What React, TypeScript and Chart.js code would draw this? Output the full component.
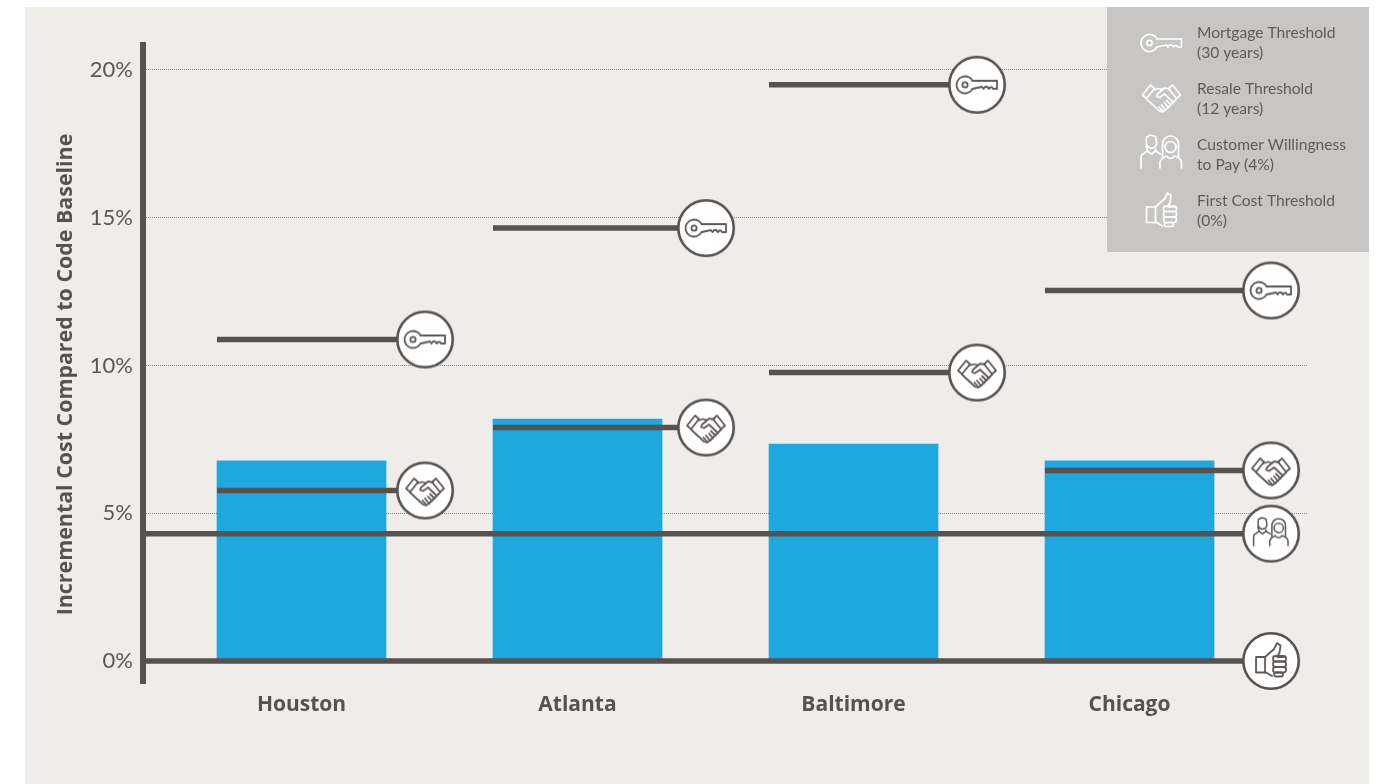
import React, { useEffect, useRef } from "react";
import { Chart, registerables } from "chart.js";

Chart.register(...registerables);

const cities = ["Houston", "Atlanta", "Baltimore", "Chicago"];
const incrementalCost = [6.77, 8.19, 7.34, 6.77];
const mortgageThreshold = [10.88, 14.65, 19.5, 12.54];
const resaleThreshold = [5.77, 7.9, 9.76, 6.45];
const willingnessToPay = 4.31;
const firstCostThreshold = 0;
const yTicks = [0, 5, 10, 15, 20];
const legendLines = [
  ["Mortgage Threshold", "(30 years)"],
  ["Resale Threshold", "(12 years)"],
  ["Customer Willingness", "to Pay (4%)"],
  ["First Cost Threshold", "(0%)"],
];

const INK = "#575150";
const ICON_INK = "#5e5957";
const FONT = "Lato, 'Open Sans', sans-serif";
const BOLD_FONT = "'Open Sans', Lato, sans-serif";

type Ctx = CanvasRenderingContext2D;

function poly(c: Ctx, pts: number[][], close = false) {
  c.beginPath();
  pts.forEach(([x, y], i) => (i ? c.lineTo(x, y) : c.moveTo(x, y)));
  if (close) c.closePath();
  c.stroke();
}

function drawKey(c: Ctx) {
  c.beginPath();
  c.arc(-12, 0, 8.5, 0.5, Math.PI * 2 - 0.5);
  c.stroke();
  c.beginPath();
  c.arc(-12, 0, 2.6, 0, Math.PI * 2);
  c.stroke();
  poly(c, [[-4.5, -4], [20, -4], [20, 4], [16, 4], [15, 2.5], [13, 2.5], [12, 4], [10, 2], [8, 2], [6.5, 4], [5, 2], [-4.5, 4]]);
}

function drawHandshake(c: Ctx) {
  poly(c, [[-19, -2], [-11, -12], [-7, -8.5], [-15, 1.5]], true);
  poly(c, [[19, -2], [11, -12], [7, -8.5], [15, 1.5]], true);
  poly(c, [[-15, 2], [-2, 14], [1, 15], [4, 13], [6, 11], [8, 9], [11, 6], [15, 2]]);
  poly(c, [[-8, -7], [-3, -8.5], [1, -7.5]]);
  poly(c, [[8, -8], [3, -9], [-4, -3], [-5, -0.5], [-2, 0.5], [3, -3], [12, 5.5]]);
  poly(c, [[1, 14], [-2.5, 10]]);
  poly(c, [[4, 13], [0, 8]]);
  poly(c, [[7, 10.5], [3, 6]]);
  poly(c, [[9.5, 8], [5, 3.5]]);
}

function drawPeople(c: Ctx) {
  // man on the left
  c.beginPath();
  c.arc(-10, -9, 5.2, 0.2, Math.PI - 0.2);
  c.stroke();
  poly(c, [[-15.2, -9], [-15, -15], [-11, -17], [-6, -15.5], [-4.8, -9]]);
  poly(c, [[-15.5, -6], [-14, -1], [-20, 3], [-20.5, 6], [-20.5, 16]]);
  poly(c, [[-6, -3], [-6, -1], [-1, 2]]);
  poly(c, [[-14, -1], [-10, 2], [-6, -1]]);
  // woman on the right
  c.beginPath();
  c.moveTo(1, 6);
  c.lineTo(1, -8);
  c.arc(9, -8, 8, Math.PI, 0);
  c.lineTo(17, 6);
  c.stroke();
  c.beginPath();
  c.arc(9, -5, 5.5, 0, Math.PI * 2);
  c.stroke();
  c.beginPath();
  c.moveTo(-1.5, 16);
  c.lineTo(-1.5, 10);
  c.quadraticCurveTo(0, 6, 5, 4);
  c.quadraticCurveTo(9, 9, 13, 4);
  c.quadraticCurveTo(19.5, 6, 20, 10);
  c.lineTo(20, 16);
  c.stroke();
}

function drawPeopleSmall(c: Ctx) {
  c.save();
  c.translate(0, -1.5);
  c.scale(0.85, 0.85);
  drawPeople(c);
  c.restore();
}

function drawThumb(c: Ctx) {
  poly(c, [[1, 15], [-5, 11.5], [-15, 11.5], [-15, -4], [-6, -4], [3, -12], [6, -18], [9.5, -15.5], [8.5, -8.5], [6, -4], [13, -4]]);
  poly(c, [[-6, -4], [-6, 11.5]]);
  [[2, -4, 13, 5.5], [2, 1.5, 13, 5.5], [2, 7, 13, 5.5], [3, 12.5, 9, 4]].forEach(([x, y, w, h]) => {
    c.beginPath();
    c.roundRect(x, y - 1, w, h, 2.4);
    c.stroke();
  });
}

const iconPainters = [drawKey, drawHandshake, drawPeople, drawThumb];
const badgePainters = [drawKey, drawHandshake, drawPeopleSmall, drawThumb];
const legendIconShift = [0, -2, -3, 0];

// A white disc with a pictogram, used as the point style at the end of each threshold line.
function makeBadge(paint: (c: Ctx) => void): HTMLCanvasElement {
  const size = 60;
  const cv = document.createElement("canvas");
  cv.width = size;
  cv.height = size;
  const c = cv.getContext("2d") as Ctx;
  c.translate(size / 2, size / 2);
  c.beginPath();
  c.arc(0, 0, 27.7, 0, Math.PI * 2);
  c.fillStyle = "#ffffff";
  c.fill();
  c.lineWidth = 2.6;
  c.strokeStyle = INK;
  c.stroke();
  c.lineWidth = 1.8;
  c.strokeStyle = ICON_INK;
  c.lineJoin = "round";
  c.lineCap = "round";
  paint(c);
  return cv;
}

const X_MIN = -0.5743;
const X_MAX = 3.6431;
const BAR_HALF = 0.3062;
const reach = [0.4475, 0.4656, 0.4475, 0.5127];

// One broken line across the cities: each piece runs from a bar's left edge to its badge.
function cityThreshold(values: number[]) {
  const pts: { x: number; y: number | null; end?: boolean }[] = [];
  values.forEach((v, i) => {
    pts.push({ x: i - BAR_HALF, y: v });
    pts.push({ x: i + reach[i], y: v, end: true });
    pts.push({ x: i + 0.5, y: null });
  });
  return pts;
}

function wideThreshold(v: number) {
  return [
    { x: X_MIN, y: v },
    { x: 3 + reach[3], y: v, end: true },
  ];
}

const panelPlugin = {
  id: "panel",
  beforeDraw(chart: Chart) {
    const c = chart.ctx;
    c.save();
    c.fillStyle = "#eeedea";
    c.fillRect(25, 7, 1344, 777);
    c.restore();
  },
  afterDraw(chart: Chart) {
    const c = chart.ctx;
    c.save();
    c.translate(66, 374.5);
    c.rotate(-Math.PI / 2);
    c.fillStyle = INK;
    c.font = `700 21.4px ${BOLD_FONT}`;
    c.textAlign = "center";
    c.textBaseline = "middle";
    c.fillText("Incremental Cost Compared to Code Baseline", 0, 0);
    c.restore();

    c.save();
    c.fillStyle = "#c7c6c4";
    c.fillRect(1107, 7, 262, 245);
    legendLines.forEach((lines, i) => {
      const rowY = 43 + i * 56;
      c.fillStyle = "#5f5b59";
      c.font = `400 15.6px ${FONT}`;
      c.textAlign = "left";
      c.textBaseline = "middle";
      c.fillText(lines[0], 1197, rowY - 10);
      c.fillText(lines[1], 1197, rowY + 10);
      c.save();
      c.translate(1161.5, rowY + legendIconShift[i]);
      c.strokeStyle = "#ffffff";
      c.lineWidth = 1.7;
      c.lineJoin = "round";
      c.lineCap = "round";
      iconPainters[i](c);
      c.restore();
    });
    c.restore();
  },
};

export default function App() {
  const ref = useRef<HTMLCanvasElement>(null);

  useEffect(() => {
    const [keyBadge, handBadge, peopleBadge, thumbBadge] = badgePainters.map(makeBadge);
    const lineStyle = (badge: HTMLCanvasElement) => ({
      type: "line" as const,
      borderColor: INK,
      borderWidth: 5.5,
      borderCapStyle: "butt" as const,
      spanGaps: false,
      tension: 0,
      clip: false,
      pointStyle: badge,
      pointRadius: (ctx: any) => (ctx.raw && ctx.raw.end ? 29 : 0),
      pointHoverRadius: 0,
      order: 1,
    });

    const chart = new Chart(ref.current as HTMLCanvasElement, {
      data: {
        datasets: [
          {
            type: "bar",
            label: "Incremental cost",
            data: incrementalCost.map((y, x) => ({ x, y })),
            backgroundColor: "#1ea8e0",
            barThickness: 169,
            order: 2,
          },
          { label: "Mortgage Threshold", data: cityThreshold(mortgageThreshold), ...lineStyle(keyBadge) },
          { label: "Resale Threshold", data: cityThreshold(resaleThreshold), ...lineStyle(handBadge) },
          { label: "Customer Willingness to Pay", data: wideThreshold(willingnessToPay), ...lineStyle(peopleBadge) },
          { label: "First Cost Threshold", data: wideThreshold(firstCostThreshold), ...lineStyle(thumbBadge) },
        ] as any,
      },
      options: {
        responsive: false,
        animation: false,
        layout: { padding: { top: 45, right: 75, left: 0, bottom: 0 } },
        plugins: { legend: { display: false }, tooltip: { enabled: false } },
        scales: {
          x: {
            type: "linear",
            offset: false,
            min: X_MIN,
            max: X_MAX,
            grid: { display: false, offset: false },
            border: { display: false },
            afterBuildTicks: (s: any) => {
              s.ticks = cities.map((_, value) => ({ value }));
            },
            afterFit: (s: any) => {
              s.height = 101;
            },
            ticks: {
              autoSkip: false,
              maxRotation: 0,
              padding: 1,
              color: INK,
              font: { family: BOLD_FONT, size: 21, weight: 700 },
              callback: (v: any) => cities[v as number],
            },
          },
          y: {
            type: "linear",
            min: -0.7445,
            max: 20.846,
            grid: {
              color: (ctx: any) => (ctx.tick && ctx.tick.value === 0 ? "rgba(0,0,0,0)" : "#8b8884"),
              lineWidth: 1,
              drawTicks: false,
            },
            border: { display: true, color: INK, width: 6, dash: [1, 1] },
            afterBuildTicks: (s: any) => {
              s.ticks = yTicks.map((value) => ({ value }));
            },
            afterFit: (s: any) => {
              s.width = 143;
            },
            ticks: {
              padding: 10,
              color: "#5c5654",
              font: { family: FONT, size: 22, weight: 400 },
              callback: (v: any) => `${v}%`,
            },
          },
        },
      } as any,
      plugins: [panelPlugin],
    });
    return () => chart.destroy();
  }, []);

  return (
    <div style={{ position: "absolute", left: 0, top: 0, width: 1382, height: 784, overflow: "hidden" }}>
      <canvas ref={ref} width={1382} height={784} style={{ display: "block" }} />
    </div>
  );
}
